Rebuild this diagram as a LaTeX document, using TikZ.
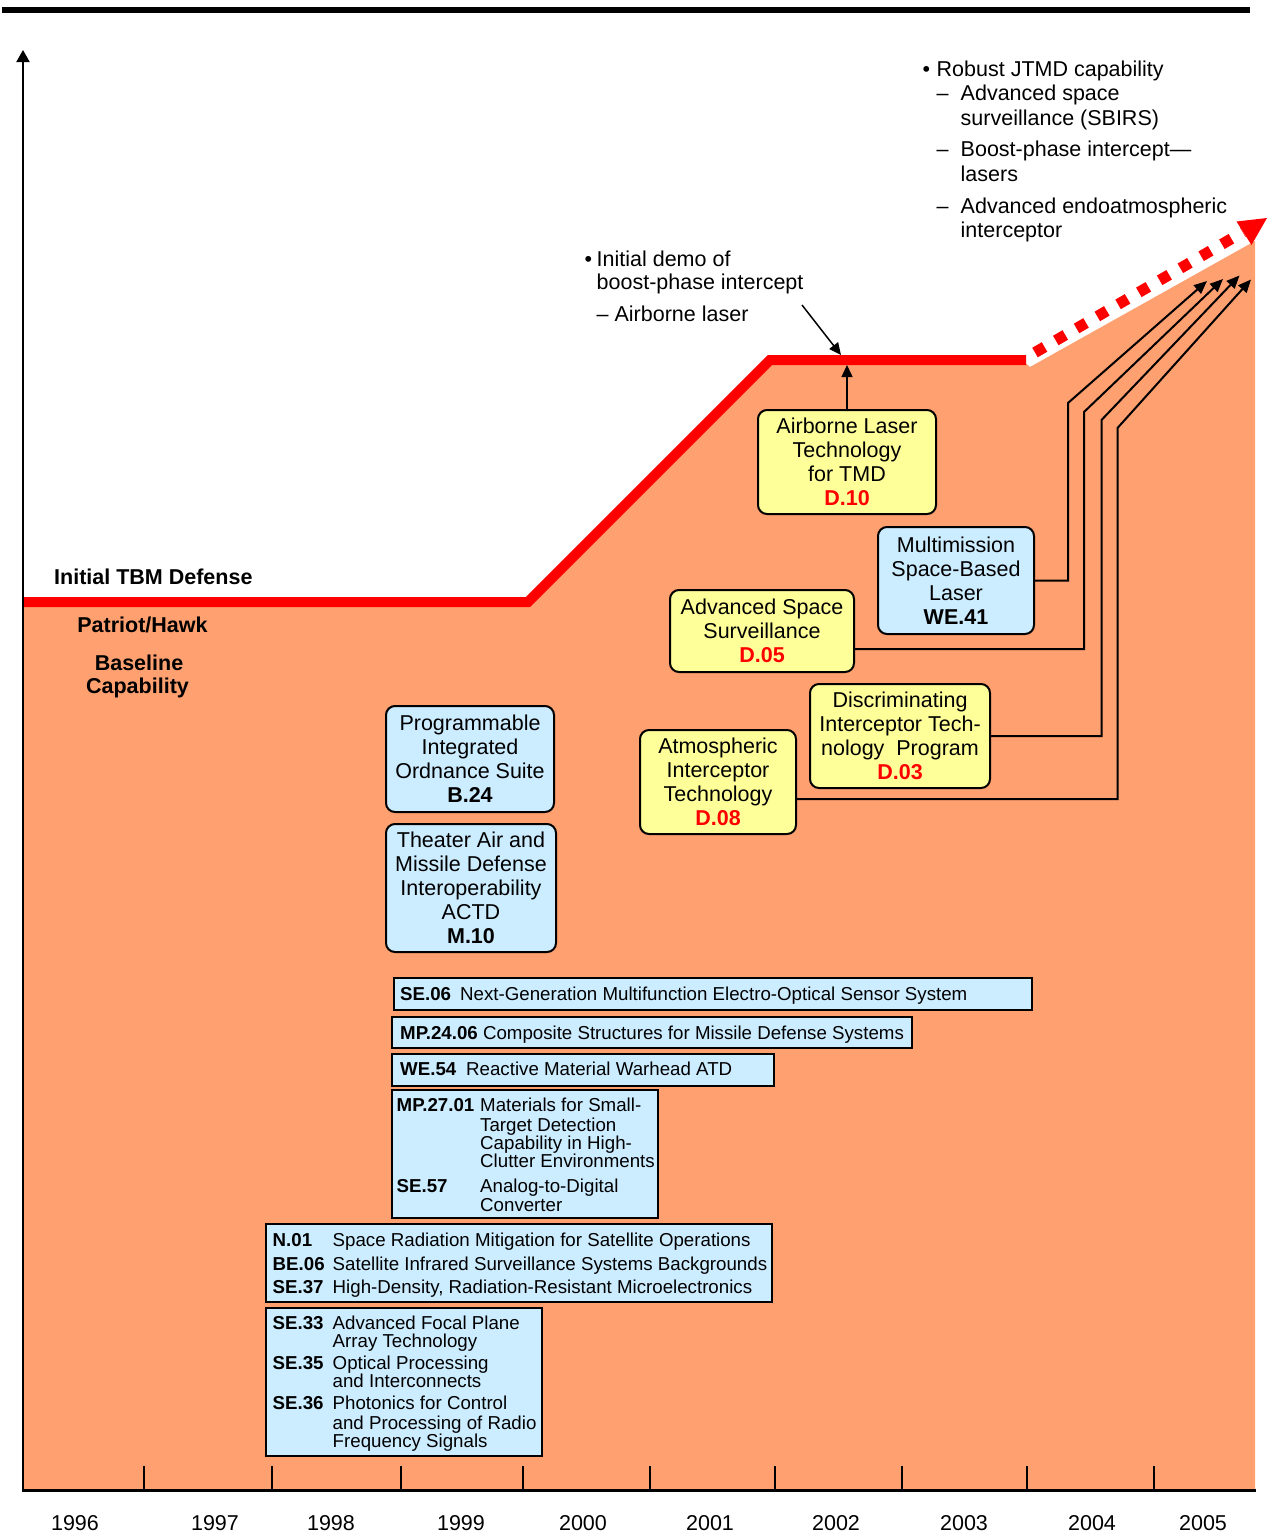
\documentclass[tikz,border=0pt]{standalone}
\usepackage{fontspec}
\setmainfont{Liberation Sans}
\usetikzlibrary{arrows.meta}
\definecolor{bgorange}{HTML}{FFA070}
\definecolor{boxblue}{HTML}{CCECFF}
\definecolor{boxyellow}{HTML}{FFFF99}
\definecolor{linered}{HTML}{FF0000}
\newcommand\rcode[1]{\textcolor{linered}{\textbf{#1}}}
\newcommand\tline[4]{\node[txt,anchor=base west] (#1) at (#2,#3) {#4};}
\newcommand\sline[4]{\node[stxt,anchor=base west] (#1) at (#2,#3) {#4};}
\newcommand\yline[4]{\node[txt,anchor=base] (#1) at (#2,#3) {#4};}
\begin{document}
\begin{tikzpicture}[x=1pt,y=-1pt,
  txt/.style={inner sep=0pt,font=\fontsize{21.5}{24}\selectfont},
  stxt/.style={inner sep=0pt,font=\fontsize{18.7}{19}\selectfont},
  rbox/.style={draw,line width=2pt,rounded corners=9pt,align=center,inner sep=0pt,outer sep=0pt,font=\fontsize{21.5}{24}\selectfont},
  rectbox/.style={draw,line width=2.5pt,fill=boxblue,inner sep=0pt,outer sep=0pt,anchor=north west},
  link/.style={line width=2pt,-{Triangle[length=13pt,width=11pt]}},
  thinlink/.style={line width=1.5pt,-{Triangle[length=12pt,width=11pt]}}]
\useasboundingbox (0,0) rectangle (1267,1535);
\fill[white] (0,0) rectangle (1267,1535);

% background area
\fill[bgorange] (23,602) -- (528,602) -- (770,360) -- (1022,360) -- (1030,367) -- (1255,241) -- (1255,1490) -- (23,1490) -- cycle;

% capability line
\draw[linered,line width=10pt] (23,602) -- (528,602) -- (770,360) -- (1026,360);
\draw[linered,line width=11pt,dash pattern=on 11pt off 13pt] (1035,352.5) -- (1243,232);
\fill[linered] (1267,218) -- (1236.5,221.5) -- (1251.5,245) -- cycle;

% axes
\draw[line width=6pt] (2,10) -- (1250,10);
\draw[line width=2pt,-{Triangle[length=12pt,width=13pt]}] (23,1491) -- (23,50);
\draw[line width=3pt] (21.5,1490) -- (1256,1490);
\foreach \tx in {144,272,401,523,650,775,902,1027,1154}
  \draw[line width=1.5pt] (\tx,1466) -- (\tx,1490);

% years
\yline{y96}{75}{1530}{1996}
\yline{y97}{215}{1530}{1997}
\yline{y98}{331}{1530}{1998}
\yline{y99}{461}{1530}{1999}
\yline{y00}{583}{1530}{2000}
\yline{y01}{710}{1530}{2001}
\yline{y02}{836}{1530}{2002}
\yline{y03}{964}{1530}{2003}
\yline{y04}{1092}{1530}{2004}
\yline{y05}{1203}{1530}{2005}

% left labels
\tline{itbm}{54}{584}{\textbf{Initial TBM Defense}}
\yline{ph}{142.5}{632}{\textbf{Patriot/Hawk}}
\yline{bl1}{139}{670}{\textbf{Baseline}}
\yline{bl2}{137.5}{693}{\textbf{Capability}}

% top right text
\tline{b1}{922.5}{76}{\textbullet}
\tline{r1}{936.5}{76}{Robust JTMD capability}
\tline{d1}{936.5}{100}{–}
\tline{r2}{960.5}{100}{Advanced space}
\tline{r3}{960.5}{125.5}{surveillance (SBIRS)}
\tline{d2}{936.5}{156.5}{–}
\tline{r4}{960.5}{156.5}{Boost-phase intercept—}
\tline{r5}{960.5}{181}{lasers}
\tline{d3}{936.5}{213.5}{–}
\tline{r6}{960.5}{213.5}{Advanced endoatmospheric}
\tline{r7}{960.5}{237.5}{interceptor}

% demo text
\tline{b2}{584.5}{266}{\textbullet}
\tline{i1}{596.5}{266}{Initial demo of}
\tline{i2}{596.5}{289.5}{boost-phase intercept}
\tline{i3}{596.5}{321.5}{– Airborne laser}

% rounded boxes
\node[rbox,fill=boxyellow,minimum width=178pt,minimum height=104pt] (alt) at (847,462) {Airborne Laser\\Technology\\for TMD\\\rcode{D.10}};
\node[rbox,fill=boxblue,minimum width=156pt,minimum height=107pt] (sbl) at (956,580.5) {Multimission\\Space-Based\\Laser\\\textbf{WE.41}};
\node[rbox,fill=boxyellow,minimum width=184pt,minimum height=82pt] (ass) at (762,631) {Advanced Space\\Surveillance\\\rcode{D.05}};
\node[rbox,fill=boxyellow,minimum width=180pt,minimum height=104pt] (dit) at (900,736) {Discriminating\\Interceptor Tech-\\nology\ \ Program\\\rcode{D.03}};
\node[rbox,fill=boxyellow,minimum width=156pt,minimum height=104pt] (ait) at (718,782) {Atmospheric\\Interceptor\\Technology\\\rcode{D.08}};
\node[rbox,fill=boxblue,minimum width=168pt,minimum height=106pt] (pio) at (470,759) {Programmable\\Integrated\\Ordnance Suite\\\textbf{B.24}};
\node[rbox,fill=boxblue,minimum width=170pt,minimum height=128pt] (tam) at (471,888) {Theater Air and\\Missile Defense\\Interoperability\\ACTD\\\textbf{M.10}};

% rectangular boxes
\node[rectbox,minimum width=638pt,minimum height=32pt] (se06) at (394,978) {};
\sline{se06t}{400}{1000.5}{\makebox[60pt][l]{\textbf{SE.06}}Next-Generation Multifunction Electro-Optical Sensor System}
\node[rectbox,minimum width=520pt,minimum height=31pt] (mp2406) at (392,1017) {};
\sline{mp2406t}{400}{1039.5}{\textbf{MP.24.06} Composite Structures for Missile Defense Systems}
\node[rectbox,minimum width=382pt,minimum height=32pt] (we54) at (392,1054) {};
\sline{we54t}{400}{1075.5}{\makebox[66pt][l]{\textbf{WE.54}}Reactive Material Warhead ATD}

\node[rectbox,minimum width=266pt,minimum height=128pt] (mp2701) at (392,1090) {};
\sline{m1}{396.5}{1111.7}{\textbf{MP.27.01}}
\sline{m2}{480}{1111.7}{Materials for Small-}
\sline{m3}{480}{1131}{Target Detection}
\sline{m4}{480}{1149.5}{Capability in High-}
\sline{m5}{480}{1167.5}{Clutter Environments}
\sline{m6}{396.5}{1192}{\textbf{SE.57}}
\sline{m7}{480}{1192}{Analog-to-Digital}
\sline{m8}{480}{1211}{Converter}

\node[rectbox,minimum width=506pt,minimum height=78pt] (n01) at (266,1224) {};
\sline{n1}{272.5}{1246}{\textbf{N.01}}
\sline{n2}{332.5}{1246}{Space Radiation Mitigation for Satellite Operations}
\sline{n3}{272.5}{1270}{\textbf{BE.06}}
\sline{n4}{332.5}{1270}{Satellite Infrared Surveillance Systems Backgrounds}
\sline{n5}{272.5}{1293.5}{\textbf{SE.37}}
\sline{n6}{332.5}{1293.5}{High-Density, Radiation-Resistant Microelectronics}

\node[rectbox,minimum width=276pt,minimum height=148pt] (se33) at (266,1308) {};
\sline{s1}{272.5}{1329.7}{\textbf{SE.33}}
\sline{s2}{332.5}{1329.7}{Advanced Focal Plane}
\sline{s3}{332.5}{1347.7}{Array Technology}
\sline{s4}{272.5}{1369.7}{\textbf{SE.35}}
\sline{s5}{332.5}{1369.7}{Optical Processing}
\sline{s6}{332.5}{1387.7}{and Interconnects}
\sline{s7}{272.5}{1409.7}{\textbf{SE.36}}
\sline{s8}{332.5}{1409.7}{Photonics for Control}
\sline{s9}{332.5}{1429}{and Processing of Radio}
\sline{s10}{332.5}{1447.5}{Frequency Signals}

% arrows
\coordinate (demofrom) at (802,305);
\coordinate (demoto) at (841,355);
\coordinate (altto) at (847,365);
\draw[thinlink] (demofrom) -- (demoto);
\draw[thinlink] (alt.north) -- (altto);

\coordinate (tipA) at (1207,281);
\coordinate (tipB) at (1223,279);
\coordinate (tipC) at (1239.5,275.5);
\coordinate (tipD) at (1251,279.5);
\draw[link] (sbl.east) -| (1068,403) -- (tipA);
\draw[link] ([yshift=-18pt]ass.east) -| (1084,412) -- (tipB);
\draw[link] (dit.east) -| (1101.5,420) -- (tipC);
\draw[link] ([yshift=-17pt]ait.east) -| (1117.5,428) -- (tipD);
\end{tikzpicture}
\end{document}
